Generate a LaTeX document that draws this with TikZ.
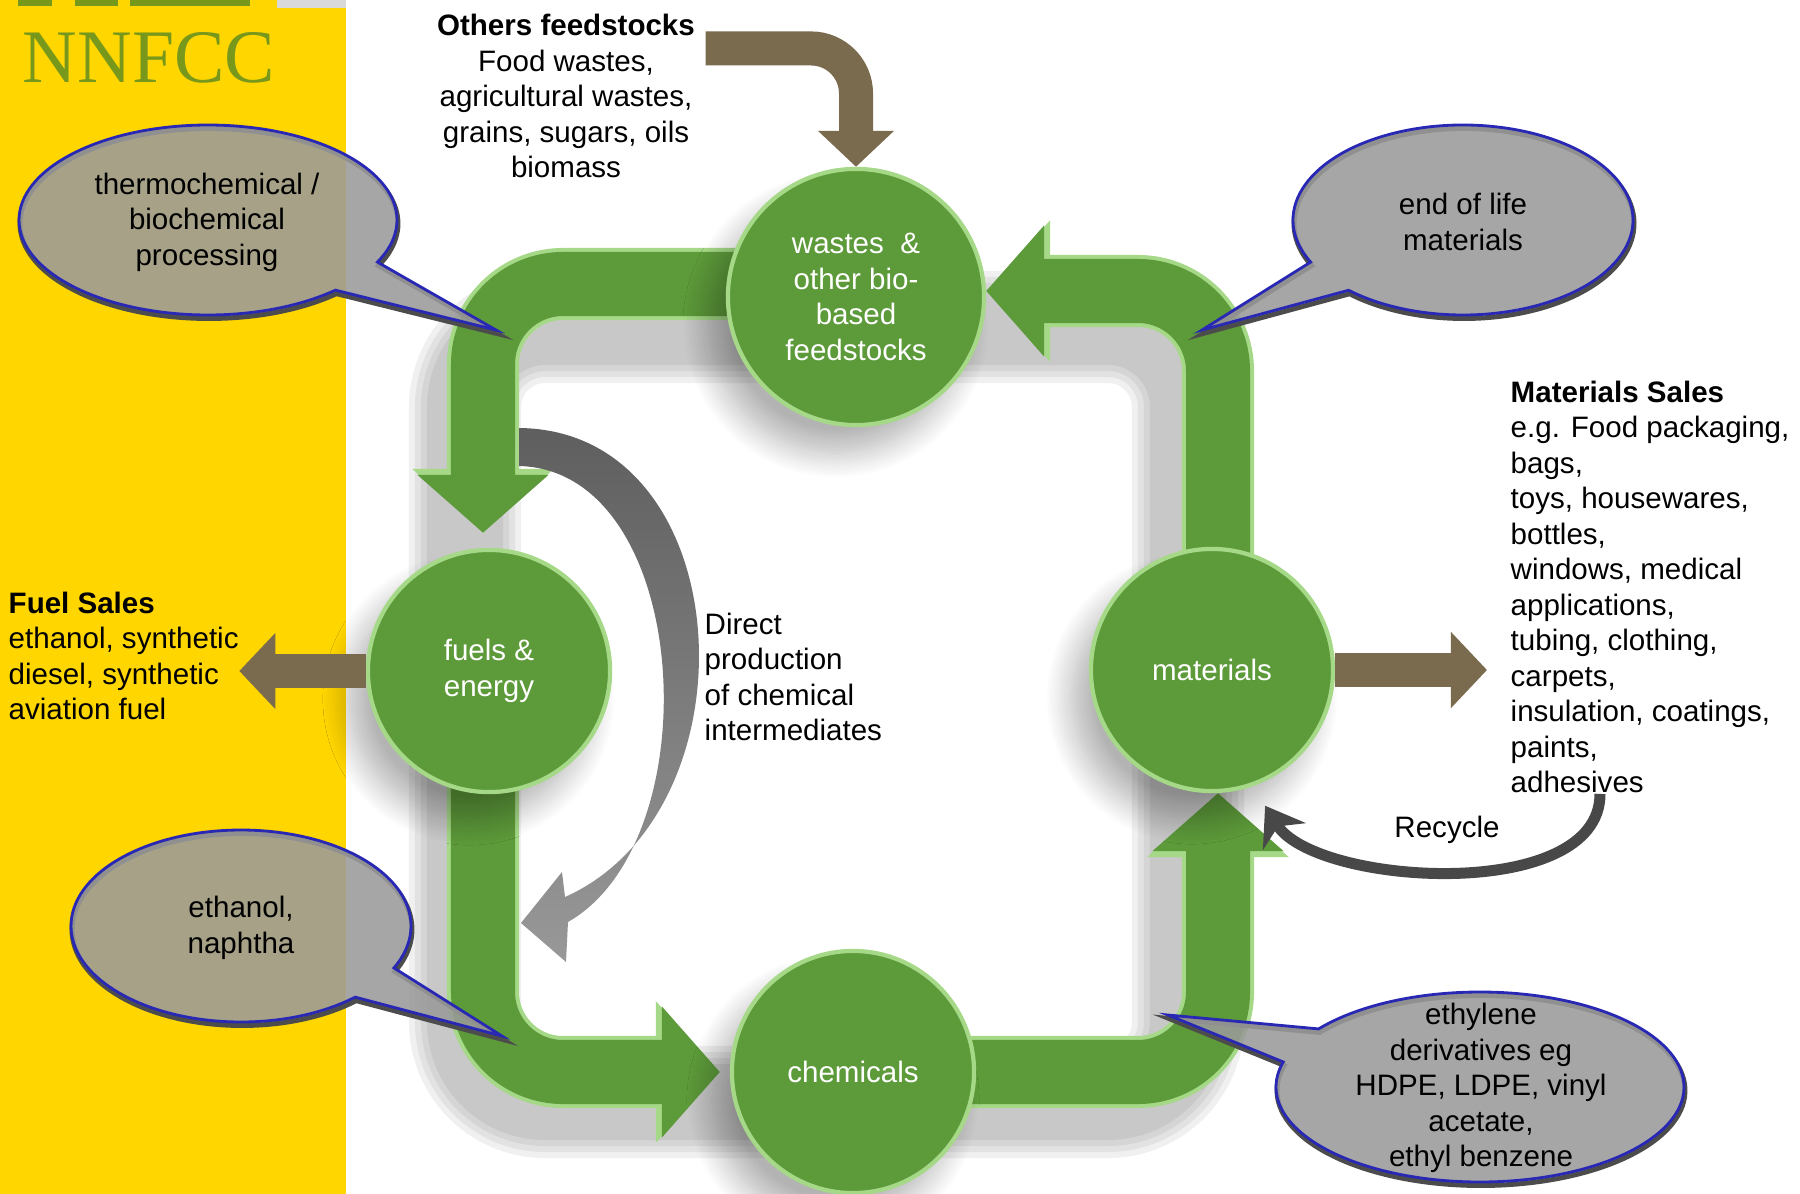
\documentclass[tikz,border=0pt]{standalone}
\usepackage{fontspec}
\setmainfont{Liberation Sans}
\newfontfamily\logofont{Liberation Serif}
\usetikzlibrary{arrows.meta,shadows.blur}

\definecolor{logoyellow}{RGB}{255,214,0}
\definecolor{logogreen}{RGB}{120,152,28}
\definecolor{loopgreen}{RGB}{93,154,58}
\definecolor{rimgreen}{RGB}{165,216,135}
\definecolor{feedbrown}{RGB}{122,106,78}
\definecolor{bubblegray}{RGB}{154,154,154}
\definecolor{bubbleblue}{RGB}{40,40,180}
\definecolor{arcgray}{RGB}{118,118,118}
\definecolor{recyclegray}{RGB}{72,72,72}

\pgfdeclarelayer{back}
\pgfdeclarelayer{loop}
\pgfsetlayers{back,loop,main}

\newcommand{\txtsize}{\fontsize{8.4}{10.1}\selectfont}
% ellipse with a wedge: centre, x radius, y radius, start angle, end angle, tip
\newcommand{\calloutpath}[6]{([shift={(#4:#2 and #3)}]#1) arc[start angle=#4, end angle=#5, x radius=#2, y radius=#3] -- #6 -- cycle}

\tikzset{
  every node/.style={font=\txtsize, inner sep=0pt},
  stage/.style={circle, fill=loopgreen, draw=rimgreen, line width=1.2pt, text=white, align=center,
    minimum size=2.42cm,
    blur shadow={shadow xshift=-0.2cm, shadow yshift=-0.28cm, shadow blur radius=0.25cm,
      shadow blur steps=20, shadow opacity=30}},
  loopband/.style={draw=loopgreen, line width=0.64cm, rounded corners=0.8cm,
    -{Triangle[width=1.28cm,length=0.58cm]},
    preaction={draw=rimgreen, line width=0.72cm, -{Triangle[width=1.38cm,length=0.64cm]}}},
  salesarrow/.style={draw=feedbrown, line width=0.34cm, -{Triangle[width=0.74cm,length=0.36cm]}},
  recyclearrow/.style={draw=recyclegray, line width=0.11cm, -{Stealth[width=0.5cm,length=0.36cm]}},
  callout/.style={fill=bubblegray, fill opacity=0.88, draw=bubbleblue, line width=0.8pt},
  calloutshadow/.style={draw=black!70, line width=1.4pt, transform canvas={shift={(0.01cm,-0.035cm)}}},
  sidetext/.style={align=left, anchor=west},
}

\begin{document}
\begin{tikzpicture}[x=0.01cm, y=-0.01cm]
\useasboundingbox (0,0) rectangle (1800,1194);

\node[stage, minimum size=2.56cm] (wastes) at (856,297) {wastes~ \&\\other bio-\\based\\feedstocks};
\node[stage] (fuels) at (489,671) {fuels \&\\energy};
\node[stage] (materials) at (1212,670) {materials};
\node[stage] (chemicals) at (853,1072) {chemicals};

\node[font={\logofont\fontsize{21.5}{24}\selectfont}, text=logogreen] (logo) at (149,58) {NNFCC};
\node[align=center] (others) at (566,96) {\textbf{Others feedstocks}\\Food wastes,\\agricultural wastes,\\grains, sugars, oils\\biomass};
\node[sidetext] (fuelsales) at (8,656) {\textbf{Fuel Sales}\\ethanol, synthetic\\diesel, synthetic\\aviation fuel};
\node[sidetext] (matsales) at (1510,587) {\textbf{Materials Sales}\\e.g. Food packaging,\\bags,\\toys, housewares,\\bottles,\\windows, medical\\applications,\\tubing, clothing,\\carpets,\\insulation, coatings,\\paints,\\adhesives};
\node[sidetext] (direct) at (704,677) {Direct\\production\\of chemical\\intermediates};
\node (recycle) at (1447,830) {Recycle};

\begin{pgfonlayer}{back}
  \fill[logoyellow] (0,0) rectangle (346,1194);
  \fill[logogreen] (18,0) rectangle (52,6);
  \fill[logogreen] (75,0) rectangle (118,6);
  \fill[logogreen] (130,0) rectangle (250,6);
  \fill[black!15] (277,0) rectangle (346,8);
  \foreach \w in {1.12cm, 1.0cm, 0.88cm, 0.76cm}
    \draw[black, opacity=0.06, line width=\w, rounded corners=0.8cm, transform canvas={shift={(-0.24cm,-0.3cm)}}]
      (fuels |- wastes) rectangle (materials |- chemicals);
\end{pgfonlayer}

\begin{pgfonlayer}{loop}
  \draw[loopband, shorten >=0.15cm] ([yshift=0.13cm]wastes.center) -| ([xshift=-0.06cm]fuels.north);
  \draw[loopband, shorten >=0.1cm] ([xshift=-0.06cm]fuels.center) |- (chemicals.west);
  \draw[loopband] (chemicals.center) -| ([xshift=0.06cm]materials.south);
  \draw[loopband] ([xshift=0.06cm]materials.center) |- ([yshift=0.06cm]wastes.east);
\end{pgfonlayer}

\draw[salesarrow, rounded corners=0.45cm] ([shift={(0.1cm,-0.35cm)}]others.north east) -| (wastes.north);
\draw[salesarrow] (fuels.west) -- (fuels.west -| fuelsales.east);
\draw[salesarrow, shorten >=0.23cm] (materials.east) -- (materials.east -| matsales.west);

% direct production bypass
\shade[top color=arcgray!80!black, bottom color=arcgray!75!white]
  (519,428) .. controls (740,430) and (760,810) .. (565,897) -- (562,872) -- (521,923) -- (566,962)
  -- (568,922) .. controls (712,840) and (692,470) .. (519,466) -- cycle;

\draw[recyclearrow] ([xshift=-0.5cm]matsales.south) .. controls +(0,110) and +(50,80) .. ([shift={(0.11cm,-0.2cm)}]materials.-70);

% callouts
\draw[calloutshadow] \calloutpath{208,220}{189}{95}{47.6}{386.3}{(496,330)};
\filldraw[callout] \calloutpath{208,220}{189}{95}{47.6}{386.3}{(496,330)};
\draw[calloutshadow] \calloutpath{1463,220}{170}{95}{153.7}{492.3}{(1202,330)};
\filldraw[callout] \calloutpath{1463,220}{170}{95}{153.7}{492.3}{(1202,330)};
\draw[calloutshadow] \calloutpath{241,926}{170}{96}{47.8}{385.9}{(502,1036)};
\filldraw[callout] \calloutpath{241,926}{170}{96}{47.8}{385.9}{(502,1036)};
\draw[calloutshadow] \calloutpath{1480,1087}{204}{95}{217.7}{555.3}{(1168,1015)};
\filldraw[callout] \calloutpath{1480,1087}{204}{95}{217.7}{555.3}{(1168,1015)};

\node[align=center] (thermo) at (207,222) {thermochemical /\\biochemical\\processing};
\node[align=center] (endlife) at (1463,222) {end of life\\materials};
\node[align=center] (naphtha) at (241,928) {ethanol,\\naphtha};
\node[align=center] (ethylene) at (1481,1088) {ethylene\\derivatives eg\\HDPE, LDPE, vinyl\\acetate,\\ethyl benzene};
\end{tikzpicture}
\end{document}
